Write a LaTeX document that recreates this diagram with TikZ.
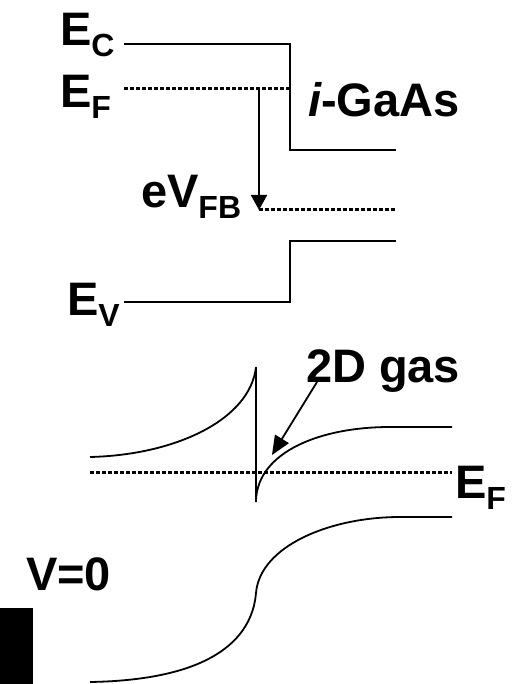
\documentclass[tikz,border=0pt]{standalone}
\usepackage{fontspec}
\setmainfont{Liberation Sans}
\usetikzlibrary{arrows.meta}
\newcommand{\bigtxt}{\fontsize{47}{47}\selectfont\bfseries}
\newcommand{\subtxt}[1]{\raisebox{-11pt}{\fontsize{32}{32}\selectfont\bfseries #1}}
\begin{document}
\begin{tikzpicture}[x=1pt,y=-1pt,
  band/.style={line width=1.8pt},
  fermi/.style={line width=3pt,dash pattern=on 3.5pt off 2.5pt},
  lbl/.style={anchor=base west,inner sep=0pt,outer sep=0pt,font=\bigtxt},
  bigarrow/.style={line width=1.8pt,-{Triangle[width=16pt,length=15pt]}}]
\useasboundingbox (0,0) rectangle (520,684);
% labels
\node[lbl] (ec) at (60,46) {E\subtxt{C}};
\node[lbl] (ef) at (60,108) {E\subtxt{F}};
\node[lbl] (gaas) at (308,117) {\itshape i\upshape-GaAs};
\node[lbl] (efb) at (141,208) {eV\subtxt{FB}};
\node[lbl] (ev) at (67,315) {E\subtxt{V}};
\node[lbl] (gas) at (306,382) {2D gas};
\node[lbl] (ef2) at (455,498) {E\subtxt{F}};
\node[lbl] (v0) at (26,590) {V=0};
% top diagram
\coordinate (c1) at (124,44); \coordinate (c2) at (290,44);
\coordinate (c3) at (290,150); \coordinate (c4) at (396,150);
\draw[band] (c1) -- (c2) -- (c3) -- (c4);
\coordinate (f1) at (124,89); \coordinate (f2) at (290,89);
\draw[fermi] (f1) -- (f2);
\coordinate (a1) at (259,89); \coordinate (a2) at (259,210);
\draw[bigarrow] (a1) -- (a2);
\coordinate (f3) at (396,210);
\draw[fermi] (a2) -- (f3);
\coordinate (v1) at (124,302); \coordinate (v2) at (290,302);
\coordinate (v3) at (290,241); \coordinate (v4) at (396,241);
\draw[band] (v1) -- (v2) -- (v3) -- (v4);
% bottom diagram
\coordinate (u1) at (90,457); \coordinate (u2) at (256,367);
\coordinate (u3) at (256,502); \coordinate (u4) at (452,427);
\draw[band] (u1) .. controls (175,455) and (250,420) .. (u2) -- (u3);
\draw[band] (256,500) .. controls (258,452) and (320,427) .. (390,427) -- (u4);
\coordinate (g1) at (90,472); \coordinate (g2) at (452,472);
\draw[fermi] (g1) -- (g2);
\coordinate (p1) at (317,382); \coordinate (p2) at (272,455);
\draw[line width=1.8pt,-{Triangle[width=16pt,length=19pt]}] (p1) -- (p2);
\coordinate (l1) at (90,682); \coordinate (l2) at (256,593); \coordinate (l3) at (452,517);
\draw[band] (l1) .. controls (210,680) and (252,640) .. (l2) .. controls (260,546) and (330,517) .. (400,517) -- (l3);
\fill (0,608) rectangle (33,684);
\end{tikzpicture}
\end{document}
